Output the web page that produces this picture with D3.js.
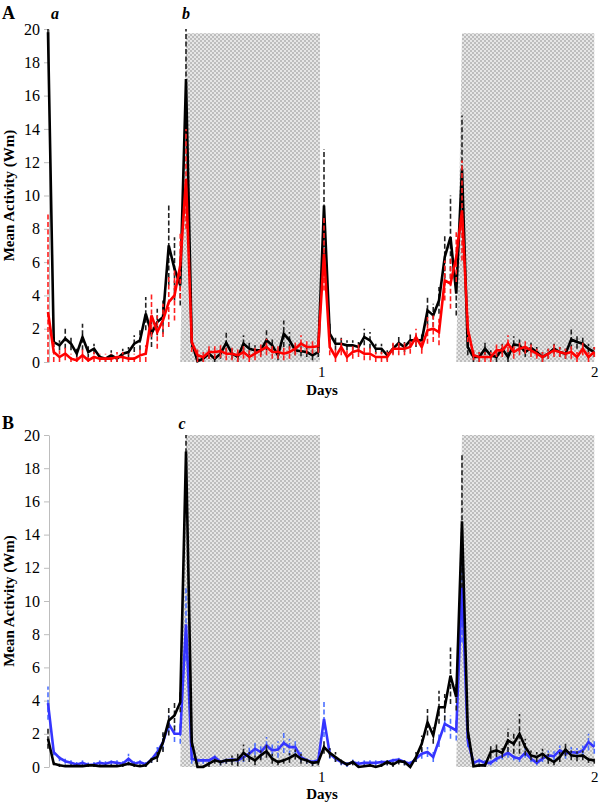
<!DOCTYPE html>
<html><head><meta charset="utf-8">
<script src="https://cdn.jsdelivr.net/npm/d3@7"></script>
<style>body{margin:0;background:#fff}svg{display:block}
svg text{font-family:"Liberation Serif","Times New Roman","DejaVu Serif",serif !important;}</style>
</head><body><svg id="c" width="600" height="803"></svg>
<script>
// ---- data (30-min bins, 2 days) ----
const yTicks = [0,2,4,6,8,10,12,14,16,18,20];
const dayTickIdx = [47.5, 95];
const dayTickLabels = ["1","2"];
const shadeSpans = [[23,47.3],[71,95]];

const topBlack = [19.8,1.2,1.0,1.4,1.1,0.5,1.5,0.6,0.8,0.3,
 0.2,0.4,0.2,0.5,0.6,1.1,1.3,2.9,1.7,2.4,
 2.7,7.0,5.6,4.6,17.0,1.2,0.05,0.2,0.5,0.2,
 0.5,1.15,0.5,0.3,1.1,0.8,0.7,0.7,1.3,1.0,
 0.4,1.7,1.3,0.7,0.65,0.6,0.4,0.6,9.4,1.7,
 1.1,1.1,1.0,1.0,0.9,1.5,1.3,0.8,0.8,0.4,
 0.8,1.15,0.9,1.3,1.3,1.3,3.1,2.8,3.7,6.3,
 7.5,4.1,11.6,0.9,0.3,0.3,0.8,0.4,0.3,0.8,
 0.3,1.05,1.0,0.6,0.85,0.6,0.3,0.5,0.8,0.6,
 0.5,1.35,1.2,1.1,0.8,0.6];
const topBlackErr = [0.5,0.3,0.3,0.6,0.4,0.3,0.8,0.4,0.3,0.2,
 0.2,0.3,0.2,0.3,0.3,0.5,0.6,1.0,0.8,0.8,
 1.0,2.4,1.9,1.2,3.0,0.4,0.3,0.3,0.3,0.3,
 0.3,0.6,0.3,0.3,0.5,0.4,0.3,0.3,0.6,0.4,
 0.3,0.8,0.5,0.3,0.3,0.3,0.3,0.3,3.4,0.6,
 0.4,0.4,0.3,0.3,0.3,0.5,0.5,0.3,0.3,0.3,
 0.3,0.4,0.3,0.4,0.4,0.4,0.9,0.7,0.8,1.3,
 2.5,1.3,3.2,0.5,0.3,0.3,0.4,0.3,0.3,0.3,
 0.3,0.5,0.4,0.3,0.3,0.3,0.3,0.3,0.3,0.3,
 0.3,0.6,0.4,0.4,0.3,0.3];
const topRed = [3.0,0.6,0.3,0.5,0.2,0.1,0.4,0.1,0.3,0.2,
 0.2,0.2,0.3,0.3,0.2,0.2,0.4,0.5,2.8,1.8,
 2.5,3.6,4.0,5.8,11.0,1.2,0.4,0.3,0.6,0.6,
 0.65,0.5,0.5,0.4,0.6,0.3,0.5,0.7,0.9,0.6,
 0.6,0.5,0.6,0.8,1.1,0.9,0.9,0.95,6.5,0.9,
 0.3,0.9,0.3,0.6,0.7,0.5,0.5,0.3,0.3,0.3,
 0.8,0.8,0.8,0.9,1.5,0.9,1.9,2.0,1.8,4.9,
 4.7,6.3,9.1,2.0,0.4,0.3,0.3,0.3,0.7,0.7,
 1.1,0.6,0.8,0.9,0.7,0.5,0.3,0.5,0.7,0.6,
 0.5,0.6,0.3,0.8,0.3,0.6];
const topRedErr = [6.0,0.6,0.4,0.4,0.3,0.3,0.4,0.3,0.3,0.3,
 0.3,0.3,0.3,0.3,0.3,0.3,0.4,0.5,1.3,1.0,
 1.0,1.5,1.5,2.0,3.0,0.6,0.4,0.3,0.4,0.4,
 0.4,0.4,0.4,0.4,0.4,0.4,0.4,0.4,0.5,0.4,
 0.4,0.4,0.4,0.4,0.5,0.4,0.4,0.4,2.2,0.5,
 0.5,0.5,0.4,0.4,0.4,0.4,0.4,0.3,0.3,0.3,
 0.4,0.4,0.4,0.4,0.5,0.4,0.8,0.8,0.8,1.2,
 1.5,1.5,3.0,0.8,0.3,0.3,0.3,0.3,0.4,0.4,
 0.5,0.4,0.4,0.4,0.4,0.3,0.3,0.3,0.4,0.3,
 0.3,0.4,0.3,0.4,0.3,0.3];

const botBlack = [1.7,0.2,0.1,0.05,0.05,0.05,0.05,0.1,0.1,0.05,
 0.05,0.05,0.05,0.1,0.2,0.1,0.05,0.1,0.45,0.6,
 1.5,2.8,3.1,3.9,19.0,1.5,0.0,0.0,0.2,0.4,
 0.3,0.4,0.4,0.45,0.85,0.6,0.4,0.7,0.95,0.5,
 0.3,0.4,0.55,0.75,0.5,0.4,0.25,0.3,1.2,0.85,
 0.6,0.35,0.15,0.3,0.0,0.05,0.1,0.0,0.1,0.3,
 0.15,0.35,0.3,0.0,0.6,1.4,2.7,1.9,3.6,3.6,
 5.5,4.2,14.8,2.2,0.05,0.1,0.1,0.9,1.0,0.85,
 1.6,1.4,2.0,1.2,0.7,0.6,0.8,0.5,0.3,0.6,
 1.05,0.7,0.65,0.7,0.45,0.4];
const botBlackErr = [0.6,0.1,0.1,0.1,0.1,0.1,0.1,0.1,0.1,0.1,
 0.1,0.1,0.1,0.1,0.1,0.1,0.1,0.1,0.2,0.3,
 0.6,0.9,0.9,0.6,1.0,0.3,0.1,0.1,0.2,0.2,
 0.2,0.2,0.3,0.4,0.5,0.3,0.3,0.3,0.4,0.3,
 0.2,0.2,0.3,0.3,0.3,0.2,0.2,0.2,0.4,0.3,
 0.3,0.2,0.1,0.2,0.1,0.1,0.1,0.1,0.1,0.2,
 0.2,0.2,0.2,0.1,0.3,0.5,0.8,0.5,1.0,0.8,
 1.7,0.8,4.0,0.5,0.1,0.1,0.1,0.4,0.4,0.3,
 0.7,0.6,1.2,0.5,0.3,0.3,0.3,0.3,0.2,0.3,
 0.4,0.3,0.3,0.3,0.2,0.2];
const botBlue = [3.85,0.9,0.55,0.35,0.25,0.15,0.25,0.12,0.15,0.25,
 0.2,0.3,0.25,0.2,0.5,0.2,0.3,0.15,0.45,0.9,
 1.5,2.6,2.0,2.0,8.6,0.5,0.4,0.4,0.4,0.6,
 0.3,0.4,0.45,0.4,0.6,0.8,1.1,0.9,1.3,1.0,
 1.05,1.45,1.2,1.2,0.6,0.4,0.3,0.4,2.9,0.8,
 0.5,0.3,0.15,0.3,0.2,0.25,0.25,0.25,0.3,0.3,
 0.4,0.45,0.3,0.2,0.5,0.8,0.9,0.6,1.6,2.6,
 2.4,2.2,11.0,1.6,0.25,0.4,0.25,0.25,0.5,0.65,
 0.85,0.6,0.5,0.85,0.5,0.25,0.5,0.7,0.65,1.0,
 0.8,0.9,0.85,1.0,1.5,1.2];
const botBlueErr = [1.0,0.2,0.2,0.15,0.15,0.15,0.15,0.15,0.15,0.15,
 0.15,0.2,0.15,0.15,0.3,0.15,0.2,0.15,0.2,0.3,
 0.5,0.5,0.5,0.6,2.2,0.3,0.2,0.2,0.2,0.2,
 0.2,0.2,0.2,0.2,0.3,0.4,0.4,0.4,0.5,0.4,
 0.5,0.6,0.5,0.4,0.3,0.2,0.2,0.2,1.1,0.3,
 0.2,0.2,0.15,0.15,0.15,0.15,0.15,0.15,0.2,0.2,
 0.2,0.2,0.2,0.15,0.2,0.3,0.3,0.3,0.4,0.5,
 0.7,0.6,3.5,0.4,0.15,0.2,0.15,0.15,0.2,0.2,
 0.3,0.2,0.2,0.3,0.2,0.15,0.2,0.3,0.3,0.3,
 0.3,0.3,0.3,0.3,0.5,0.4];

// ---- drawing ----
const svg = d3.select("#c");
const defs = svg.append("defs");
const pat = defs.append("pattern").attr("id","chk").attr("width",4).attr("height",4).attr("patternUnits","userSpaceOnUse");
pat.append("rect").attr("width",4).attr("height",4).attr("fill","#e6e6e6");
pat.append("rect").attr("width",2).attr("height",2).attr("fill","#bdbdbd");
pat.append("rect").attr("x",2).attr("y",2).attr("width",2).attr("height",2).attr("fill","#bdbdbd");

const x = d3.scaleLinear().domain([0,95]).range([48,594.25]);

function panel(opts){
  const y = d3.scaleLinear().domain([0,20]).range([opts.y0, opts.y20]);
  const g = svg.append("g");
  // shading
  shadeSpans.forEach(([a,b])=>{
    const pts = [[a,0],[a+1,opts.shadeTop],[b,opts.shadeTop],[b,0]];
    g.append("path").attr("d", d3.line().x(d=>x(d[0])).y(d=>y(d[1]))(pts)+"Z")
      .attr("fill","url(#chk)");
  });
  // y axis
  const ax = g.append("g").attr("transform",`translate(${x(0)+1},0)`)
    .call(d3.axisLeft(y).tickValues(yTicks).tickSize(5).tickSizeOuter(0).tickPadding(4));
  ax.attr("font-family",null);
  ax.select(".domain").attr("stroke","#bdbdbd");
  ax.selectAll(".tick line").attr("stroke","#bdbdbd");
  ax.selectAll("text").attr("font-size",16).attr("fill","#000");
  // x tick labels
  const xa = g.append("g").attr("transform",`translate(0,${opts.y0})`)
    .call(d3.axisBottom(x).tickValues(dayTickIdx).tickFormat((d,i)=>dayTickLabels[i]).tickSize(0).tickPadding(4));
  xa.attr("font-family",null);
  xa.select(".domain").remove();
  xa.selectAll("text").attr("font-size",15).attr("fill","#000");
  // labels
  g.append("text").attr("x",322).attr("y",opts.y0+opts.daysDy).attr("text-anchor","middle")
    .attr("font-weight","bold").attr("font-size",15).text("Days");
  g.append("text").attr("transform",`translate(14,${(opts.y0+opts.y20)/2}) rotate(-90)`)
    .attr("text-anchor","middle").attr("font-weight","bold")
    .attr("font-size",15).text("Mean Activity (Wm)");
  g.append("text").attr("x",2).attr("y",opts.letterY)
    .attr("font-weight","bold").attr("font-size",18).text(opts.letter);
  opts.marks.forEach(m=>{
    g.append("text").attr("x",x(m.i)).attr("y",opts.letterY).attr("text-anchor","middle")
      .attr("font-weight","bold").attr("font-style","italic")
      .attr("font-size",16).text(m.t);
  });
  // series
  const line = d3.line().x((d,i)=>x(i)).y(d=>y(d));
  opts.series.forEach(s=>{
    const eg = g.append("g");
    s.vals.forEach((v,i)=>{
      const lo = Math.max(0, v - s.err[i]), hi = Math.min(20, v + s.err[i]);
      eg.append("line").attr("x1",x(i)).attr("x2",x(i)).attr("y1",y(lo)).attr("y2",y(hi))
        .attr("stroke",s.errColor).attr("stroke-width",1.6).attr("stroke-dasharray","5,2.5");
    });
    g.append("path").attr("d",line(s.vals)).attr("fill","none").attr("stroke",s.color)
      .attr("stroke-width",2.6).attr("stroke-linejoin","miter");
  });
}

panel({y0:362, y20:29, shadeTop:19.75, letter:"A", letterY:19, daysDy:33,
  marks:[{i:1.2,t:"a"},{i:24,t:"b"}],
  series:[
    {vals:topBlack, err:topBlackErr, color:"#000", errColor:"#222"},
    {vals:topRed, err:topRedErr, color:"#ff0000", errColor:"#ff2020"}
  ]});
panel({y0:767, y20:435, shadeTop:20, letter:"B", letterY:429, daysDy:32,
  marks:[{i:23.3,t:"c"}],
  series:[
    {vals:botBlue, err:botBlueErr, color:"#3535ff", errColor:"#4d70ff"},
    {vals:botBlack, err:botBlackErr, color:"#000", errColor:"#222"}
  ]});
</script></body></html>
